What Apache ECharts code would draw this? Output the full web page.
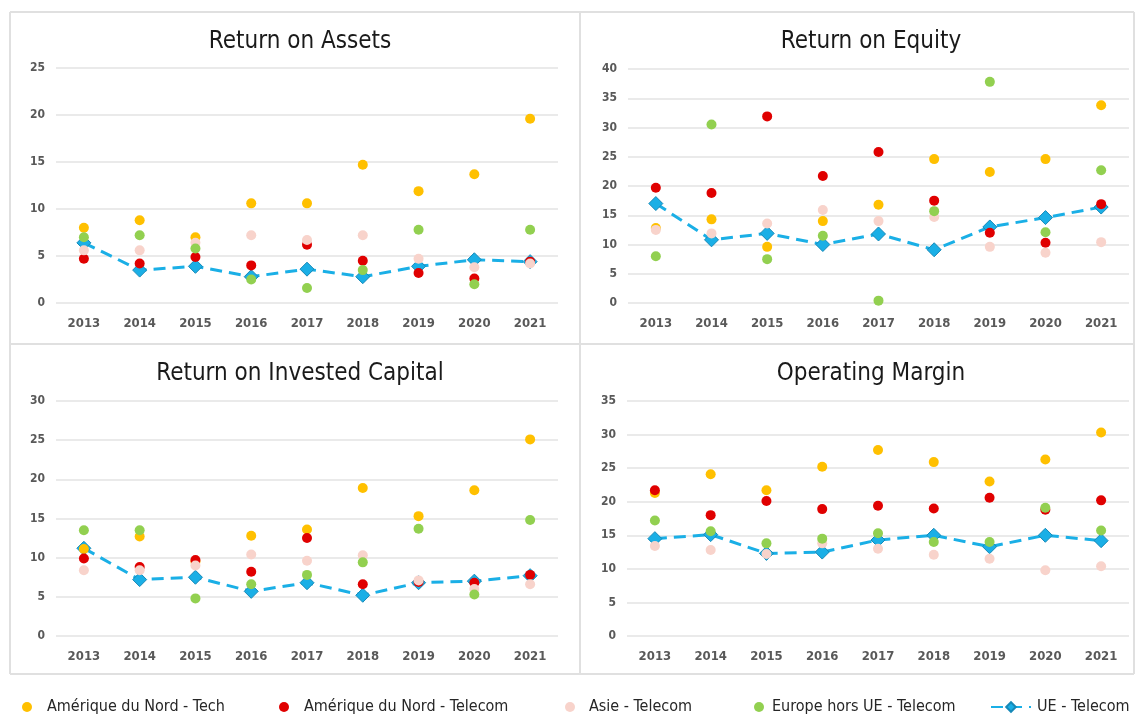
<!DOCTYPE html>
<html lang="fr">
<head>
    <meta charset="UTF-8">
    <title>Ratios financiers</title>
    <script src="https://cdn.jsdelivr.net/npm/echarts@6/dist/echarts.min.js"></script>
    <style>
        html, body { margin: 0; padding: 0; background: #fff; }
    </style>
</head>
<body>
<div class="container" style="width: 1135px;height: 715px;"></div>
<script>
    // categories + series names
    let years = ['2013', '2014', '2015', '2016', '2017', '2018', '2019', '2020', '2021'];
    let names = ['Amérique du Nord - Tech', 'Amérique du Nord - Telecom', 'Asie - Telecom', 'Europe hors UE - Telecom', 'UE - Telecom'];
    let titles = ['Return on Assets', 'Return on Equity', 'Return on Invested Capital', 'Operating Margin'];

    // Return on Assets
    let roaTech    = [8.0, 8.8, 7.0, 10.6, 10.6, 14.7, 11.9, 13.7, 19.6];
    let roaTelNA   = [4.7, 4.2, 4.9, 4.0, 6.2, 4.5, 3.2, 2.6, 4.4];
    let roaAsie    = [5.6, 5.6, 6.4, 7.2, 6.7, 7.2, 4.7, 3.8, 4.2];
    let roaEurope  = [7.0, 7.2, 5.8, 2.5, 1.6, 3.5, 7.8, 2.0, 7.8];
    let roaUE      = [6.4, 3.5, 3.9, 2.8, 3.6, 2.8, 3.9, 4.6, 4.4];

    // Return on Equity
    let roeTech    = [12.8, 14.3, 9.6, 14.0, 16.8, 24.6, 22.4, 24.6, 33.8];
    let roeTelNA   = [19.7, 18.8, 31.9, 21.7, 25.8, 17.5, 12.0, 10.3, 16.9];
    let roeAsie    = [12.5, 11.9, 13.6, 15.9, 14.0, 14.7, 9.6, 8.6, 10.4];
    let roeEurope  = [8.0, 30.5, 7.5, 11.5, 0.4, 15.7, 37.8, 12.1, 22.7];
    let roeUE      = [17.0, 10.8, 11.9, 10.0, 11.8, 9.1, 13.0, 14.6, 16.4];

    // Return on Invested Capital
    let roicTech   = [11.1, 12.7, 9.5, 12.8, 13.6, 18.9, 15.3, 18.6, 25.1];
    let roicTelNA  = [9.9, 8.8, 9.7, 8.2, 12.5, 6.6, 6.9, 6.8, 7.8];
    let roicAsie   = [8.4, 8.4, 9.0, 10.4, 9.6, 10.3, 7.1, 6.0, 6.6];
    let roicEurope = [13.5, 13.5, 4.8, 6.6, 7.8, 9.4, 13.7, 5.3, 14.8];
    let roicUE     = [11.2, 7.2, 7.5, 5.7, 6.8, 5.2, 6.8, 7.0, 7.7];

    // Operating Margin
    let omTech     = [21.3, 24.1, 21.7, 25.2, 27.7, 25.9, 23.0, 26.3, 30.3];
    let omTelNA    = [21.7, 18.0, 20.1, 18.9, 19.4, 19.0, 20.6, 18.8, 20.2];
    let omAsie     = [13.4, 12.8, 12.2, 13.8, 13.0, 12.1, 11.5, 9.8, 10.4];
    let omEurope   = [17.2, 15.6, 13.8, 14.5, 15.3, 14.0, 14.0, 19.1, 15.7];
    let omUE       = [14.5, 15.1, 12.3, 12.5, 14.3, 15.0, 13.3, 15.0, 14.2];

    let colors = ['#FFC000', '#E00000', '#F8D3CB', '#92D050', '#1AAFE6'];
    let yMax = [25, 40, 30, 35];

    let panels = [
        [roaTech, roaTelNA, roaAsie, roaEurope, roaUE],
        [roeTech, roeTelNA, roeAsie, roeEurope, roeUE],
        [roicTech, roicTelNA, roicAsie, roicEurope, roicUE],
        [omTech, omTelNA, omAsie, omEurope, omUE]
    ];

    let font = "'Liberation Sans Narrow', 'DejaVu Sans Condensed', 'Roboto', sans-serif";

    // plot areas in pixels
    let grids = [
        {left: 56, top: 68, width: 502, height: 235},
        {left: 628, top: 69, width: 501, height: 234},
        {left: 56, top: 401, width: 502, height: 235},
        {left: 627, top: 401, width: 502, height: 235}
    ];
    let titlePos = [[295, 25], [866, 25], [295, 357], [866, 357]];

    let container = document.querySelector('.container');
    let mycharts = echarts.init(container);

    let series = [];
    let xAxis = [];
    let yAxis = [];
    let title = [];

    panels.forEach((panel, i) => {
        title.push({
            text: titles[i],
            left: titlePos[i][0],
            top: titlePos[i][1],
            textAlign: 'center',
            textStyle: {fontFamily: font, fontSize: 24, fontWeight: 'normal', color: '#1a1a1a'}
        });
        xAxis.push({
            type: 'category',
            gridIndex: i,
            data: years,
            axisLine: {show: false},
            axisTick: {show: false},
            axisLabel: {margin: 14, color: '#595959', fontFamily: font, fontSize: 13, fontWeight: 'bold'}
        });
        yAxis.push({
            type: 'value',
            gridIndex: i,
            min: 0,
            max: yMax[i],
            interval: 5,
            axisLine: {show: false},
            axisTick: {show: false},
            axisLabel: {margin: 11, color: '#595959', fontFamily: font, fontSize: 12, fontWeight: 'bold'},
            splitLine: {lineStyle: {color: '#e3e3e3', width: 1.5}}
        });

        // UE line below the dots
        series.push({
            name: names[4],
            type: 'line',
            xAxisIndex: i,
            yAxisIndex: i,
            data: panel[4],
            z: 2,
            symbol: 'diamond',
            symbolSize: 14,
            lineStyle: {color: colors[4], width: 3, type: [12, 7]},
            itemStyle: {color: colors[4], borderColor: '#1689b8', borderWidth: 1}
        });
        for (let k = 0; k < 4; k++) {
            series.push({
                name: names[k],
                type: 'scatter',
                xAxisIndex: i,
                yAxisIndex: i,
                data: panel[k],
                z: 3 + k,
                symbolSize: 10,
                itemStyle: {color: colors[k], opacity: 1}
            });
        }
    });

    // one legend per entry, to keep the spacing of the original
    let legendLeft = [17, 274, 560, 749, 985];
    let legendPad = [10, 10, 9, 3, 1];
    let legend = names.map((n, k) => ({
        data: [n],
        left: legendLeft[k],
        top: 694,
        icon: k == 4 ? undefined : 'circle',
        itemWidth: k == 4 ? 40 : 10,
        itemHeight: k == 4 ? 12 : 10,
        selectedMode: false,
        textStyle: {fontFamily: font, fontSize: 16, color: '#262626', padding: [0, 0, 0, legendPad[k]]}
    }));

    let border = {stroke: '#e0e0e0', lineWidth: 2};
    let graphic = [
        {type: 'line', shape: {x1: 10, y1: 12, x2: 1134, y2: 12}, style: border, silent: true},
        {type: 'line', shape: {x1: 10, y1: 344, x2: 1134, y2: 344}, style: border, silent: true},
        {type: 'line', shape: {x1: 10, y1: 674, x2: 1134, y2: 674}, style: border, silent: true},
        {type: 'line', shape: {x1: 10, y1: 12, x2: 10, y2: 674}, style: border, silent: true},
        {type: 'line', shape: {x1: 580, y1: 12, x2: 580, y2: 674}, style: border, silent: true},
        {type: 'line', shape: {x1: 1134, y1: 12, x2: 1134, y2: 674}, style: border, silent: true}
    ];

    let option = {
        backgroundColor: '#ffffff',
        animation: false,
        title,
        grid: grids,
        xAxis,
        yAxis,
        legend,
        graphic,
        series
    };

    mycharts.setOption(option);
</script>
</body>
</html>
